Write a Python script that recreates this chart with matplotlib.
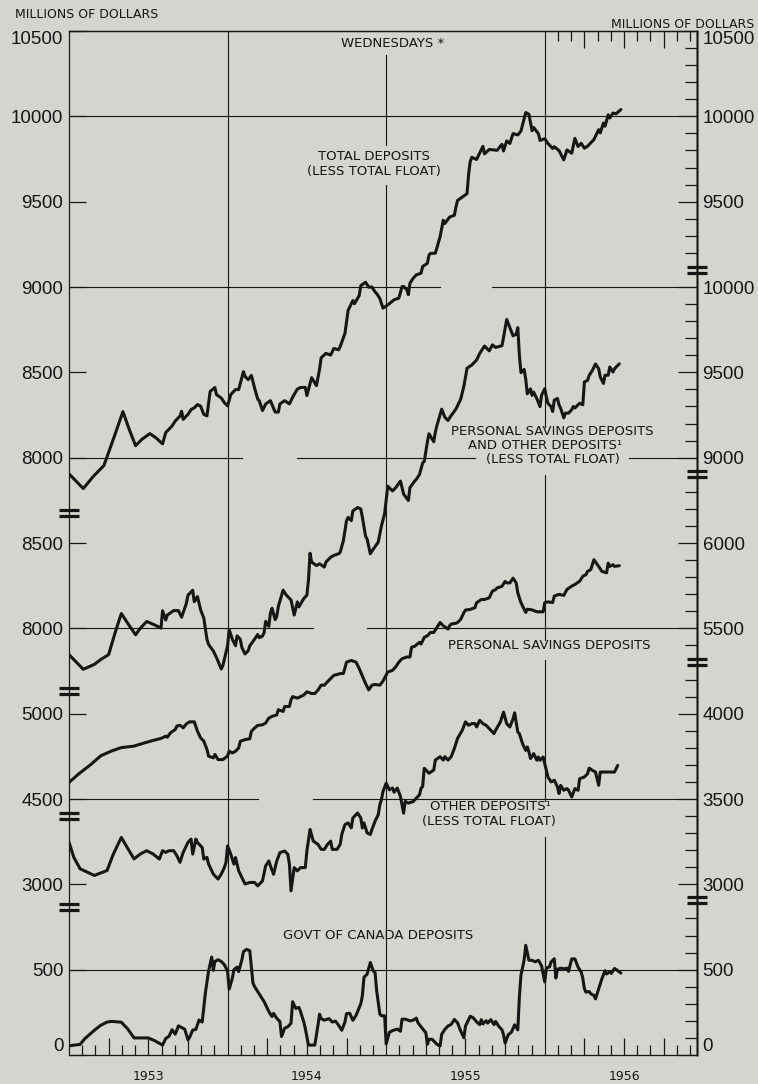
import matplotlib
matplotlib.use('Agg')
import matplotlib.pyplot as plt
from matplotlib.lines import Line2D

plt.rcParams['font.family'] = ['DejaVu Sans']

# ---------------- data (date in decimal years, millions of dollars) ----------------
year_labels = ['1953', '1954', '1955', '1956']
year_centers = [1953.5, 1954.5, 1955.5, 1956.5]

total_deposits = [
    (1953.00, 7905), (1953.09, 7819), (1953.15, 7887), (1953.22, 7954), (1953.25, 8031), (1953.29, 8136),
    (1953.34, 8270), (1953.38, 8165), (1953.42, 8070), (1953.46, 8108), (1953.51, 8141), (1953.55, 8115),
    (1953.59, 8081), (1953.61, 8147), (1953.63, 8166), (1953.65, 8186), (1953.67, 8215), (1953.70, 8244),
    (1953.71, 8272), (1953.72, 8224), (1953.74, 8244), (1953.75, 8253), (1953.77, 8282), (1953.79, 8292),
    (1953.81, 8311), (1953.83, 8302), (1953.85, 8254), (1953.87, 8245), (1953.89, 8388), (1953.92, 8411),
    (1953.93, 8369), (1953.96, 8350), (1953.98, 8322), (1954.00, 8303), (1954.02, 8370), (1954.05, 8399),
    (1954.07, 8399), (1954.10, 8504), (1954.11, 8476), (1954.13, 8457), (1954.15, 8482), (1954.17, 8409),
    (1954.19, 8343), (1954.20, 8333), (1954.22, 8276), (1954.24, 8314), (1954.27, 8334), (1954.30, 8267),
    (1954.32, 8267), (1954.33, 8315), (1954.36, 8334), (1954.39, 8315), (1954.41, 8354), (1954.44, 8402),
    (1954.46, 8411), (1954.49, 8412), (1954.50, 8364), (1954.53, 8469), (1954.56, 8422), (1954.58, 8517),
    (1954.59, 8585), (1954.62, 8611), (1954.65, 8601), (1954.67, 8640), (1954.70, 8632), (1954.71, 8651),
    (1954.74, 8728), (1954.76, 8863), (1954.79, 8921), (1954.80, 8902), (1954.83, 8950), (1954.84, 9008),
    (1954.87, 9028), (1954.89, 8999), (1954.91, 9000), (1954.93, 8971), (1954.94, 8962), (1954.96, 8933),
    (1954.98, 8876), (1955.01, 8895), (1955.05, 8925), (1955.08, 8935), (1955.10, 9002), (1955.11, 9003),
    (1955.13, 8984), (1955.14, 8955), (1955.15, 9022), (1955.17, 9051), (1955.19, 9071), (1955.22, 9081),
    (1955.23, 9120), (1955.26, 9139), (1955.27, 9187), (1955.28, 9197), (1955.31, 9198), (1955.34, 9294),
    (1955.36, 9391), (1955.37, 9372), (1955.40, 9410), (1955.43, 9420), (1955.44, 9469), (1955.45, 9507),
    (1955.48, 9527), (1955.51, 9547), (1955.52, 9662), (1955.53, 9736), (1955.54, 9760), (1955.57, 9747),
    (1955.61, 9824), (1955.62, 9780), (1955.65, 9806), (1955.70, 9801), (1955.73, 9836), (1955.74, 9797),
    (1955.76, 9856), (1955.78, 9841), (1955.80, 9899), (1955.83, 9891), (1955.85, 9914), (1955.88, 10022),
    (1955.90, 10012), (1955.92, 9916), (1955.93, 9935), (1955.96, 9898), (1955.97, 9859), (1956.00, 9869),
    (1956.02, 9841), (1956.05, 9812), (1956.06, 9822), (1956.09, 9799), (1956.12, 9745), (1956.14, 9803),
    (1956.17, 9784), (1956.19, 9871), (1956.21, 9823), (1956.23, 9842), (1956.25, 9813), (1956.27, 9825),
    (1956.31, 9864), (1956.34, 9922), (1956.35, 9903), (1956.37, 9961), (1956.38, 9942), (1956.40, 10009),
    (1956.41, 9990), (1956.43, 10019), (1956.45, 10015), (1956.48, 10040),
]

personal_and_other = [
    (1953.00, 7846), (1953.09, 7760), (1953.16, 7789), (1953.20, 7817), (1953.25, 7846), (1953.29, 7972),
    (1953.33, 8087), (1953.37, 8030), (1953.42, 7962), (1953.45, 8001), (1953.49, 8040), (1953.54, 8020),
    (1953.58, 8001), (1953.59, 8103), (1953.61, 8049), (1953.62, 8078), (1953.66, 8104), (1953.69, 8104),
    (1953.71, 8065), (1953.74, 8146), (1953.75, 8194), (1953.78, 8223), (1953.79, 8156), (1953.81, 8186),
    (1953.83, 8108), (1953.85, 8060), (1953.87, 7935), (1953.88, 7906), (1953.91, 7867), (1953.93, 7829),
    (1953.96, 7762), (1953.97, 7781), (1953.98, 7820), (1954.00, 7898), (1954.01, 7993), (1954.03, 7936),
    (1954.05, 7898), (1954.06, 7956), (1954.08, 7936), (1954.09, 7888), (1954.11, 7850), (1954.13, 7869),
    (1954.14, 7898), (1954.17, 7936), (1954.19, 7964), (1954.20, 7945), (1954.22, 7955), (1954.23, 7974),
    (1954.24, 8041), (1954.26, 8012), (1954.27, 8089), (1954.28, 8118), (1954.30, 8051), (1954.31, 8070),
    (1954.32, 8128), (1954.35, 8224), (1954.37, 8195), (1954.39, 8176), (1954.40, 8166), (1954.42, 8078),
    (1954.44, 8155), (1954.45, 8126), (1954.48, 8174), (1954.50, 8194), (1954.51, 8282), (1954.52, 8440),
    (1954.53, 8388), (1954.56, 8368), (1954.58, 8378), (1954.61, 8359), (1954.62, 8388), (1954.65, 8417),
    (1954.67, 8427), (1954.70, 8437), (1954.71, 8446), (1954.73, 8513), (1954.75, 8631), (1954.76, 8650),
    (1954.78, 8631), (1954.79, 8688), (1954.82, 8708), (1954.84, 8699), (1954.85, 8651), (1954.87, 8540),
    (1954.88, 8523), (1954.90, 8437), (1954.92, 8466), (1954.95, 8505), (1954.97, 8600), (1954.99, 8671),
    (1955.01, 8833), (1955.04, 8805), (1955.06, 8824), (1955.09, 8863), (1955.11, 8787), (1955.14, 8749),
    (1955.15, 8825), (1955.18, 8863), (1955.19, 8873), (1955.21, 8901), (1955.23, 8969), (1955.24, 8978),
    (1955.26, 9093), (1955.27, 9140), (1955.30, 9093), (1955.31, 9150), (1955.32, 9188), (1955.35, 9284),
    (1955.37, 9237), (1955.39, 9218), (1955.41, 9247), (1955.44, 9285), (1955.47, 9343), (1955.49, 9419),
    (1955.51, 9524), (1955.54, 9543), (1955.57, 9572), (1955.59, 9611), (1955.62, 9654), (1955.65, 9626),
    (1955.67, 9661), (1955.69, 9646), (1955.73, 9656), (1955.74, 9704), (1955.76, 9810), (1955.78, 9762),
    (1955.80, 9714), (1955.82, 9724), (1955.83, 9762), (1955.84, 9600), (1955.85, 9498), (1955.87, 9517),
    (1955.88, 9460), (1955.89, 9374), (1955.91, 9403), (1955.92, 9365), (1955.93, 9384), (1955.95, 9346),
    (1955.97, 9299), (1955.98, 9366), (1956.00, 9404), (1956.01, 9356), (1956.02, 9318), (1956.04, 9299),
    (1956.05, 9271), (1956.06, 9337), (1956.08, 9347), (1956.09, 9309), (1956.10, 9290), (1956.12, 9233),
    (1956.13, 9261), (1956.15, 9261), (1956.17, 9281), (1956.18, 9300), (1956.19, 9291), (1956.21, 9310),
    (1956.22, 9319), (1956.24, 9310), (1956.25, 9444), (1956.27, 9453), (1956.28, 9482), (1956.30, 9511),
    (1956.32, 9549), (1956.34, 9521), (1956.35, 9473), (1956.37, 9435), (1956.38, 9483), (1956.40, 9483),
    (1956.41, 9531), (1956.43, 9502), (1956.44, 9521), (1956.47, 9550),
]

personal_savings = [
    (1953.00, 4597), (1953.06, 4646), (1953.14, 4704), (1953.20, 4753), (1953.27, 4782), (1953.33, 4801),
    (1953.41, 4810), (1953.48, 4830), (1953.53, 4843), (1953.58, 4855), (1953.61, 4868), (1953.62, 4862),
    (1953.64, 4888), (1953.67, 4907), (1953.68, 4927), (1953.70, 4932), (1953.72, 4917), (1953.74, 4940),
    (1953.76, 4952), (1953.79, 4952), (1953.81, 4897), (1953.83, 4858), (1953.85, 4839), (1953.87, 4790),
    (1953.88, 4751), (1953.91, 4741), (1953.92, 4761), (1953.94, 4731), (1953.97, 4731), (1954.00, 4751),
    (1954.01, 4780), (1954.03, 4770), (1954.05, 4780), (1954.07, 4799), (1954.08, 4838), (1954.11, 4848),
    (1954.14, 4853), (1954.15, 4896), (1954.17, 4916), (1954.19, 4931), (1954.22, 4935), (1954.24, 4945),
    (1954.26, 4974), (1954.28, 4984), (1954.31, 4993), (1954.32, 5023), (1954.35, 5013), (1954.36, 5042),
    (1954.39, 5042), (1954.40, 5081), (1954.41, 5100), (1954.44, 5091), (1954.48, 5109), (1954.50, 5128),
    (1954.53, 5118), (1954.55, 5118), (1954.57, 5138), (1954.59, 5167), (1954.61, 5167), (1954.63, 5187),
    (1954.65, 5206), (1954.67, 5225), (1954.69, 5229), (1954.71, 5235), (1954.73, 5235), (1954.75, 5302),
    (1954.78, 5312), (1954.81, 5302), (1954.83, 5264), (1954.85, 5221), (1954.87, 5177), (1954.89, 5139),
    (1954.91, 5167), (1954.93, 5171), (1954.96, 5167), (1954.98, 5191), (1955.01, 5244), (1955.04, 5254),
    (1955.06, 5274), (1955.08, 5302), (1955.10, 5322), (1955.13, 5332), (1955.15, 5332), (1955.16, 5389),
    (1955.18, 5395), (1955.21, 5418), (1955.22, 5408), (1955.23, 5428), (1955.24, 5447), (1955.26, 5457),
    (1955.28, 5476), (1955.30, 5476), (1955.32, 5505), (1955.34, 5534), (1955.36, 5515), (1955.39, 5496),
    (1955.40, 5515), (1955.41, 5525), (1955.44, 5530), (1955.45, 5534), (1955.47, 5553), (1955.49, 5592),
    (1955.50, 5607), (1955.53, 5611), (1955.56, 5621), (1955.57, 5650), (1955.60, 5669), (1955.62, 5669),
    (1955.65, 5679), (1955.67, 5718), (1955.69, 5727), (1955.70, 5737), (1955.73, 5746), (1955.75, 5775),
    (1955.76, 5766), (1955.78, 5766), (1955.80, 5794), (1955.82, 5766), (1955.83, 5708), (1955.85, 5650),
    (1955.87, 5612), (1955.88, 5593), (1955.89, 5612), (1955.92, 5608), (1955.95, 5597), (1955.99, 5597),
    (1956.00, 5651), (1956.02, 5655), (1956.05, 5651), (1956.06, 5689), (1956.09, 5699), (1956.12, 5693),
    (1956.14, 5728), (1956.17, 5747), (1956.19, 5757), (1956.22, 5776), (1956.24, 5805), (1956.26, 5815),
    (1956.27, 5834), (1956.29, 5844), (1956.31, 5902), (1956.34, 5863), (1956.36, 5834), (1956.39, 5825),
    (1956.40, 5882), (1956.41, 5863), (1956.43, 5873), (1956.44, 5863), (1956.47, 5867),
]

other_deposits = [
    (1953.00, 3247), (1953.03, 3159), (1953.07, 3091), (1953.16, 3052), (1953.24, 3081), (1953.28, 3178),
    (1953.33, 3275), (1953.36, 3227), (1953.41, 3149), (1953.45, 3178), (1953.49, 3197), (1953.53, 3178),
    (1953.57, 3148), (1953.59, 3197), (1953.61, 3187), (1953.63, 3197), (1953.66, 3197), (1953.68, 3168),
    (1953.70, 3129), (1953.72, 3187), (1953.75, 3245), (1953.77, 3265), (1953.78, 3177), (1953.80, 3265),
    (1953.81, 3245), (1953.84, 3216), (1953.85, 3148), (1953.87, 3158), (1953.88, 3119), (1953.91, 3060),
    (1953.93, 3041), (1953.94, 3031), (1953.96, 3060), (1953.98, 3099), (1953.99, 3128), (1954.00, 3225),
    (1954.02, 3177), (1954.04, 3118), (1954.05, 3157), (1954.07, 3079), (1954.09, 3040), (1954.10, 3021),
    (1954.11, 3002), (1954.14, 3011), (1954.17, 3011), (1954.19, 2991), (1954.22, 3020), (1954.24, 3108),
    (1954.26, 3137), (1954.27, 3108), (1954.29, 3059), (1954.31, 3137), (1954.33, 3186), (1954.36, 3195),
    (1954.38, 3176), (1954.39, 3117), (1954.40, 2962), (1954.42, 3098), (1954.44, 3079), (1954.46, 3098),
    (1954.49, 3098), (1954.50, 3195), (1954.52, 3322), (1954.54, 3254), (1954.57, 3234), (1954.59, 3205),
    (1954.61, 3205), (1954.63, 3234), (1954.65, 3253), (1954.66, 3205), (1954.69, 3205), (1954.71, 3234),
    (1954.72, 3292), (1954.74, 3350), (1954.76, 3360), (1954.78, 3331), (1954.79, 3389), (1954.81, 3408),
    (1954.82, 3418), (1954.84, 3389), (1954.85, 3330), (1954.86, 3360), (1954.88, 3301), (1954.90, 3292),
    (1954.91, 3321), (1954.93, 3370), (1954.95, 3408), (1954.96, 3466), (1954.97, 3496), (1954.98, 3544),
    (1955.00, 3593), (1955.02, 3554), (1955.04, 3564), (1955.05, 3540), (1955.07, 3564), (1955.09, 3515),
    (1955.11, 3417), (1955.12, 3486), (1955.14, 3476), (1955.17, 3485), (1955.19, 3505), (1955.21, 3524),
    (1955.22, 3563), (1955.23, 3573), (1955.24, 3680), (1955.26, 3661), (1955.27, 3651), (1955.30, 3670),
    (1955.31, 3728), (1955.34, 3748), (1955.36, 3728), (1955.37, 3748), (1955.39, 3728), (1955.41, 3748),
    (1955.43, 3796), (1955.45, 3855), (1955.48, 3903), (1955.50, 3952), (1955.52, 3932), (1955.54, 3942),
    (1955.56, 3942), (1955.57, 3922), (1955.59, 3961), (1955.61, 3942), (1955.63, 3932), (1955.66, 3903),
    (1955.68, 3883), (1955.69, 3903), (1955.72, 3951), (1955.74, 4009), (1955.76, 3941), (1955.78, 3922),
    (1955.80, 3970), (1955.81, 4005), (1955.83, 3892), (1955.84, 3883), (1955.86, 3824), (1955.88, 3785),
    (1955.89, 3805), (1955.90, 3776), (1955.91, 3737), (1955.93, 3766), (1955.95, 3727), (1955.96, 3746),
    (1955.97, 3727), (1955.99, 3746), (1956.01, 3668), (1956.02, 3629), (1956.04, 3600), (1956.06, 3610),
    (1956.08, 3571), (1956.09, 3532), (1956.10, 3580), (1956.12, 3551), (1956.14, 3561), (1956.15, 3551),
    (1956.17, 3512), (1956.19, 3561), (1956.21, 3551), (1956.22, 3619), (1956.25, 3629), (1956.27, 3648),
    (1956.28, 3681), (1956.30, 3668), (1956.32, 3658), (1956.34, 3580), (1956.35, 3658), (1956.38, 3658),
    (1956.40, 3658), (1956.44, 3658), (1956.46, 3697),
]

govt_canada = [
    (1953.00, 54), (1953.07, 62), (1953.10, 96), (1953.16, 145), (1953.20, 174), (1953.24, 193),
    (1953.27, 197), (1953.33, 192), (1953.37, 153), (1953.41, 100), (1953.47, 100), (1953.50, 100),
    (1953.54, 84), (1953.59, 58), (1953.61, 97), (1953.63, 109), (1953.65, 148), (1953.67, 122),
    (1953.69, 171), (1953.71, 161), (1953.73, 151), (1953.75, 89), (1953.76, 102), (1953.78, 146),
    (1953.80, 150), (1953.82, 205), (1953.84, 193), (1953.86, 364), (1953.88, 491), (1953.90, 574),
    (1953.91, 496), (1953.92, 548), (1953.94, 558), (1953.96, 548), (1953.98, 529), (1954.00, 490),
    (1954.01, 386), (1954.03, 450), (1954.04, 500), (1954.06, 515), (1954.07, 489), (1954.09, 557),
    (1954.10, 606), (1954.12, 619), (1954.14, 611), (1954.16, 421), (1954.17, 401), (1954.19, 372),
    (1954.21, 343), (1954.23, 313), (1954.26, 255), (1954.28, 225), (1954.29, 244), (1954.31, 215),
    (1954.33, 196), (1954.34, 108), (1954.36, 157), (1954.38, 166), (1954.40, 186), (1954.41, 312),
    (1954.43, 273), (1954.45, 279), (1954.46, 254), (1954.48, 195), (1954.49, 156), (1954.51, 58),
    (1954.53, 58), (1954.55, 58), (1954.57, 175), (1954.58, 239), (1954.59, 213), (1954.61, 204),
    (1954.64, 213), (1954.66, 193), (1954.68, 199), (1954.70, 174), (1954.72, 145), (1954.74, 193),
    (1954.75, 242), (1954.77, 245), (1954.79, 203), (1954.81, 232), (1954.84, 300), (1954.85, 348),
    (1954.86, 455), (1954.88, 474), (1954.89, 509), (1954.90, 542), (1954.92, 490), (1954.93, 484),
    (1954.94, 377), (1954.96, 240), (1954.97, 230), (1954.99, 230), (1955.00, 65), (1955.02, 133),
    (1955.04, 143), (1955.07, 152), (1955.09, 139), (1955.10, 210), (1955.12, 210), (1955.15, 200),
    (1955.17, 204), (1955.19, 216), (1955.20, 190), (1955.22, 165), (1955.25, 131), (1955.26, 63),
    (1955.27, 92), (1955.29, 92), (1955.32, 63), (1955.34, 53), (1955.35, 121), (1955.37, 150),
    (1955.39, 170), (1955.41, 179), (1955.43, 208), (1955.45, 189), (1955.47, 140), (1955.49, 101),
    (1955.50, 169), (1955.52, 208), (1955.53, 227), (1955.55, 217), (1955.57, 194), (1955.59, 178),
    (1955.60, 207), (1955.61, 182), (1955.63, 201), (1955.64, 187), (1955.66, 207), (1955.68, 178),
    (1955.69, 197), (1955.71, 168), (1955.73, 148), (1955.74, 119), (1955.75, 70), (1955.77, 119),
    (1955.79, 134), (1955.81, 177), (1955.83, 147), (1955.84, 342), (1955.85, 468), (1955.87, 556),
    (1955.88, 643), (1955.90, 555), (1955.92, 555), (1955.94, 546), (1955.96, 555), (1955.98, 522),
    (1956.00, 428), (1956.01, 510), (1956.03, 516), (1956.04, 545), (1956.06, 564), (1956.07, 451),
    (1956.08, 502), (1956.10, 509), (1956.12, 505), (1956.14, 509), (1956.15, 490), (1956.17, 563),
    (1956.19, 563), (1956.21, 515), (1956.23, 485), (1956.24, 450), (1956.25, 388), (1956.26, 368),
    (1956.28, 372), (1956.29, 359), (1956.31, 349), (1956.32, 329), (1956.34, 387), (1956.36, 446),
    (1956.38, 494), (1956.39, 475), (1956.41, 488), (1956.42, 478), (1956.44, 507), (1956.46, 494),
    (1956.48, 480),
]

# tick labels per scale (left side / right side)
left_ticks_total = [10500, 10000, 9500, 9000, 8500, 8000]
right_ticks_total = [10500, 10000, 9500]
left_ticks_pso = [8500, 8000]
right_ticks_pso = [10000, 9500, 9000]
left_ticks_ps = [5000, 4500]
right_ticks_ps = [6000, 5500]
left_ticks_other = [3000]
right_ticks_other = [4000, 3500, 3000]
left_ticks_govt = [500, 0]
right_ticks_govt = [500, 0]

right_minor_total = [10400, 10300, 10200, 10100, 9900, 9800, 9700, 9600, 9400, 9300, 9200]
right_minor_pso = [9900, 9800, 9700, 9600, 9400, 9300, 9200, 9100]
right_minor_ps = [6300, 6200, 6100, 5900, 5800, 5700, 5600, 5400]
right_minor_other = [4200, 4100, 3900, 3800, 3700, 3600, 3400, 3300, 3200, 3100]
right_minor_govt = [800, 700, 600, 400, 300, 200, 100]

# ---------------- styling / layout ----------------
BG = '#d5d5cf'
INK = '#161616'
NUMFONT = ['Liberation Sans', 'DejaVu Sans']
NUMSIZE = 13.5
LBLSIZE = 9.5
X0, X1 = 1953.0, 1956.96
SPAN = 6000  # vertical extent of every scale (12 steps of 500)

W, H = 758, 1084
fig = plt.figure(figsize=(W / 100, H / 100), dpi=100, facecolor=BG)
rect = [69 / W, 1 - 1055 / H, 628 / W, 1024 / H]

ax0 = fig.add_axes(rect)
ax0.set_facecolor(BG)
ax0.set_xlim(X0, X1)
ax0.set_ylim(0, 1)
ax0.set_autoscale_on(False)
ax0.set_yticks([])
for s in ax0.spines.values():
    s.set_linewidth(0.9)
    s.set_color(INK)

# bottom month ticks (long at quarters), top ticks only through 1956
quarters = [1953 + m / 12 for m in range(1, 48) if m % 12 and m % 3 == 0]
months = [1953 + m / 12 for m in range(1, 48) if m % 3]
ax0.set_xticks(quarters)
ax0.set_xticks(months, minor=True)
ax0.tick_params(axis='x', which='major', direction='in', length=12, width=0.9,
                color=INK, labelbottom=False, top=False)
ax0.tick_params(axis='x', which='minor', direction='in', length=7, width=0.9,
                color=INK, top=False)
topax = ax0.secondary_xaxis('top')
topax.set_xticks([t for t in quarters if t > 1956])
topax.set_xticks([t for t in months if t > 1956], minor=True)
topax.tick_params(which='major', direction='in', length=12, width=0.9, color=INK, labeltop=False)
topax.tick_params(which='minor', direction='in', length=7, width=0.9, color=INK)
topax.spines['top'].set_linewidth(0.9)
yearax = ax0.secondary_xaxis('bottom')
yearax.set_xticks(year_centers, labels=year_labels)
yearax.tick_params(length=0, pad=11, labelsize=9, labelcolor=INK)
yearax.spines['bottom'].set_visible(False)

series = [
    ('total', total_deposits, 10500, left_ticks_total, right_ticks_total, right_minor_total),
    ('pso', personal_and_other, 11500, left_ticks_pso, right_ticks_pso, right_minor_pso),
    ('ps', personal_savings, 9000, left_ticks_ps, right_ticks_ps, right_minor_ps),
    ('other', other_deposits, 8000, left_ticks_other, right_ticks_other, right_minor_other),
    ('govt', govt_canada, 6000, left_ticks_govt, right_ticks_govt, right_minor_govt),
]

axes = {}
for name, data, top, lticks, rticks, rminor in series:
    ax = fig.add_axes(rect, sharex=ax0)
    ax.patch.set_visible(False)
    for s in ax.spines.values():
        s.set_visible(False)
    ax.set_ylim(top - SPAN, top)
    ax.xaxis.set_visible(False)
    xs = [d for d, v in data]
    ys = [v for d, v in data]
    ax.plot(xs, ys, color=INK, lw=2.2, solid_joinstyle='round', solid_capstyle='round')
    ax.set_yticks(lticks, labels=[str(v) for v in lticks], family=NUMFONT, fontsize=NUMSIZE, color=INK)
    ax.tick_params(axis='y', direction='in', length=12, width=0.9, color=INK, pad=4,
                   left=True, right=False, labelleft=True, labelright=False)
    sec = ax.secondary_yaxis('right')
    sec.set_yticks(rticks, labels=[str(v) for v in rticks], family=NUMFONT, fontsize=NUMSIZE, color=INK)
    sec.set_yticks(rminor, minor=True)
    sec.tick_params(which='major', direction='in', length=13.5, width=0.9, color=INK, pad=4)
    sec.tick_params(which='minor', direction='in', length=9, width=0.9, color=INK)
    sec.spines['right'].set_linewidth(0.9)
    sec.spines['right'].set_color(INK)
    axes[name] = (ax, sec)

# align the outermost labels inside the frame
axes['total'][0].get_yticklabels()[0].set_verticalalignment('top')
axes['total'][1].get_yticklabels()[0].set_verticalalignment('top')
axes['govt'][0].get_yticklabels()[-1].set_verticalalignment('bottom')
axes['govt'][1].get_yticklabels()[-1].set_verticalalignment('bottom')

ax_t = axes['total'][0]
ax_pso = axes['pso'][0]
ax_ps = axes['ps'][0]
ax_o = axes['other'][0]
ax_g = axes['govt'][0]


def hgrid(ax_s, value, segments):
    for a, b in segments:
        ax0.add_line(Line2D([a, b], [value, value], transform=ax_s.transData,
                            color=INK, lw=0.8, zorder=1))


hgrid(ax_t, 10000, [(X0, X1)])
hgrid(ax_t, 9000, [(X0, 1955.34), (1955.67, X1)])
hgrid(ax_t, 8000, [(X0, 1954.09), (1954.44, 1955.56), (1956.53, X1)])
hgrid(ax_pso, 8000, [(X0, 1954.54), (1954.88, X1)])
hgrid(ax_ps, 4500, [(X0, 1954.19), (1954.54, X1)])
hgrid(ax_g, 500, [(X0, X1)])


def vgrid(x, spans):
    for u0, u1 in spans:
        ax0.axvline(x, ymin=1 - u1 / 12, ymax=1 - u0 / 12, color=INK, lw=0.8, zorder=1)


vgrid(1954.0, [(0, 12)])
vgrid(1955.0, [(0.28, 1.34), (1.80, 12)])
vgrid(1956.0, [(0, 4.64), (5.20, 7.14), (7.37, 9.02), (9.45, 12)])

# scale breaks
for side_x, breaks in ((0.0, [5.65, 7.73, 9.20, 10.27]), (1.0, [2.80, 5.19, 7.39, 10.18])):
    for u in breaks:
        y = 1 - u / 12
        for dy in (0.0029, -0.0029):
            ax0.plot([side_x - 0.016, side_x + 0.016], [y + dy, y + dy], transform=ax0.transAxes,
                     color=INK, lw=2.3, solid_capstyle='butt', clip_on=False, zorder=5)


def label(ax_s, x, y, s, **kw):
    ax0.text(x, y, s, transform=ax_s.transData, ha='center', va='center',
             fontsize=LBLSIZE, color=INK, **kw)


label(ax_t, 1955.04, 10428, 'WEDNESDAYS *')
label(ax_t, 1954.92, 9765, 'TOTAL DEPOSITS')
label(ax_t, 1954.92, 9679, '(LESS TOTAL FLOAT)')
label(ax_pso, 1956.05, 9155, 'PERSONAL SAVINGS DEPOSITS')
label(ax_pso, 1956.00, 9070, 'AND OTHER DEPOSITS\u00b9')
label(ax_pso, 1956.05, 8990, '(LESS TOTAL FLOAT)')
label(ax_ps, 1956.03, 5397, 'PERSONAL SAVINGS DEPOSITS')
label(ax_o, 1955.66, 3455, 'OTHER DEPOSITS\u00b9')
label(ax_o, 1955.65, 3368, '(LESS TOTAL FLOAT)')
label(ax_g, 1954.95, 698, 'GOVT OF CANADA DEPOSITS')

fig.text(15 / W, 1 - 14 / H, 'MILLIONS OF DOLLARS', ha='left', va='center', fontsize=9, color=INK)
fig.text(754 / W, 1 - 24 / H, 'MILLIONS OF DOLLARS', ha='right', va='center', fontsize=9, color=INK)

fig.savefig('out.png', dpi=100, facecolor=BG)
